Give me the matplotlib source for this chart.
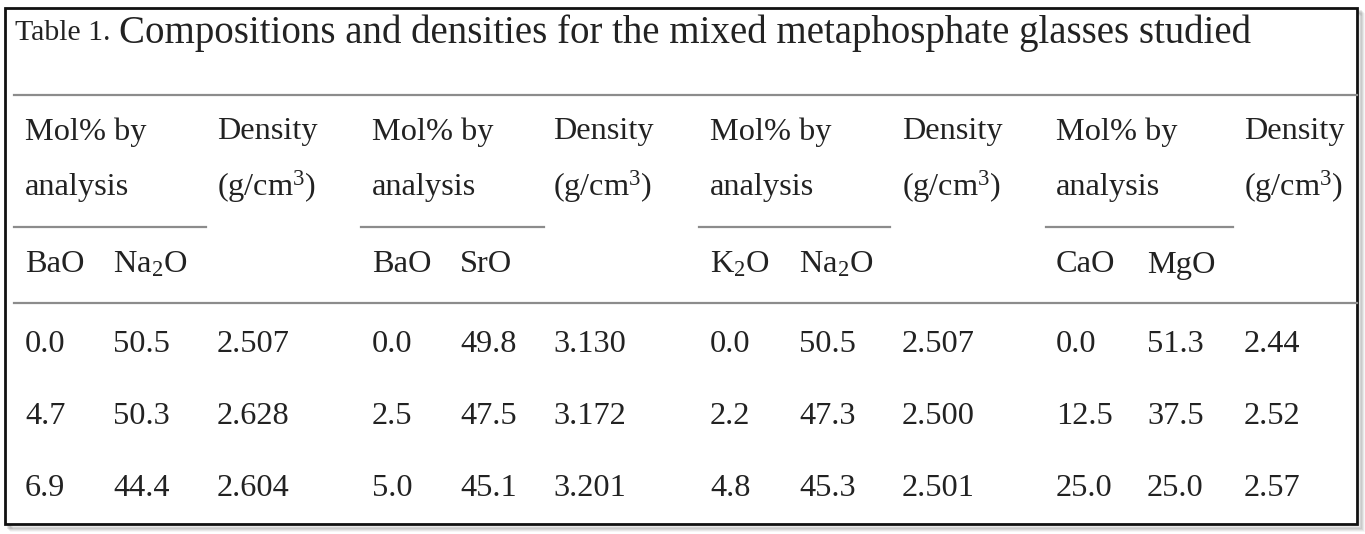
import matplotlib
matplotlib.use("Agg")
import matplotlib.pyplot as plt
from matplotlib.patches import Rectangle

plt.rcParams['font.family'] = ['Liberation Serif', 'DejaVu Serif']
plt.rcParams['mathtext.fontset'] = 'custom'
plt.rcParams['mathtext.rm'] = 'Liberation Serif'
plt.rcParams['mathtext.default'] = 'rm'

# ---- data ----
title_label = "Table 1."
title = "Compositions and densities for the mixed metaphosphate glasses studied"
group_header = ["Mol% by", "analysis"]
density_header = ["Density", "(g/cm$^3$)"]
sub_headers = [["BaO", "Na$_2$O"], ["BaO", "SrO"], ["K$_2$O", "Na$_2$O"], ["CaO", "MgO"]]
g1_a = ["0.0", "4.7", "6.9"]
g1_b = ["50.5", "50.3", "44.4"]
g1_d = ["2.507", "2.628", "2.604"]
g2_a = ["0.0", "2.5", "5.0"]
g2_b = ["49.8", "47.5", "45.1"]
g2_d = ["3.130", "3.172", "3.201"]
g3_a = ["0.0", "2.2", "4.8"]
g3_b = ["50.5", "47.3", "45.3"]
g3_d = ["2.507", "2.500", "2.501"]
g4_a = ["0.0", "12.5", "25.0"]
g4_b = ["51.3", "37.5", "25.0"]
g4_d = ["2.44", "2.52", "2.57"]
groups = [(g1_a, g1_b, g1_d), (g2_a, g2_b, g2_d), (g3_a, g3_b, g3_d), (g4_a, g4_b, g4_d)]

# ---- layout (pixels) ----
W, H = 1365, 534
fig = plt.figure(figsize=(W / 100, H / 100), dpi=100)
ax = fig.add_axes([0, 0, 1, 1])
ax.set_xlim(0, W)
ax.set_ylim(H, 0)
ax.axis('off')

txt = '#222222'
line_c = '#8c8c8c'
fs = 23.3

# shadow
for i, a in enumerate([0.10, 0.08, 0.06, 0.04]):
    ax.add_patch(Rectangle((6 + 2 + i, 9 + 2 + i), 1352, 516, facecolor='none',
                           edgecolor='black', alpha=a, lw=2))
# border
ax.add_patch(Rectangle((5, 8), 1352, 516, facecolor='white', edgecolor='#111111', lw=2, zorder=1))

ax.text(15, 33, title_label, fontsize=21.5, color=txt, va='center', ha='left', zorder=3)
ax.text(119, 33, title, fontsize=28.0, color=txt, va='center', ha='left', zorder=3)

ax.plot([14, 1357], [95, 95], color=line_c, lw=1.6, zorder=2)
ax.plot([14, 1357], [303, 303], color=line_c, lw=1.6, zorder=2)

col_a = [25, 372, 710, 1056]
col_b = [113, 460, 799, 1147]
col_d = [217, 553, 902, 1244]
under = [(14, 206), (361, 544), (699, 890), (1046, 1233)]
row_y = [345, 417, 489]

for gi in range(4):
    for k, t in enumerate(group_header):
        ax.text(col_a[gi], [132, 187][k], t, fontsize=fs, color=txt, va='center', ha='left', zorder=3)
    for k, t in enumerate(density_header):
        ax.text(col_d[gi], [132, 187][k], t, fontsize=fs, color=txt, va='center', ha='left', zorder=3)
    x0, x1 = under[gi]
    ax.plot([x0, x1], [227, 227], color=line_c, lw=1.6, zorder=2)
    ax.text(col_a[gi], 265, sub_headers[gi][0], fontsize=fs, color=txt, va='center', ha='left', zorder=3)
    ax.text(col_b[gi], 265, sub_headers[gi][1], fontsize=fs, color=txt, va='center', ha='left', zorder=3)
    a_vals, b_vals, d_vals = groups[gi]
    for r in range(3):
        ax.text(col_a[gi], row_y[r], a_vals[r], fontsize=fs, color=txt, va='center', ha='left', zorder=3)
        ax.text(col_b[gi], row_y[r], b_vals[r], fontsize=fs, color=txt, va='center', ha='left', zorder=3)
        ax.text(col_d[gi], row_y[r], d_vals[r], fontsize=fs, color=txt, va='center', ha='left', zorder=3)

fig.savefig("out.png", dpi=100)
